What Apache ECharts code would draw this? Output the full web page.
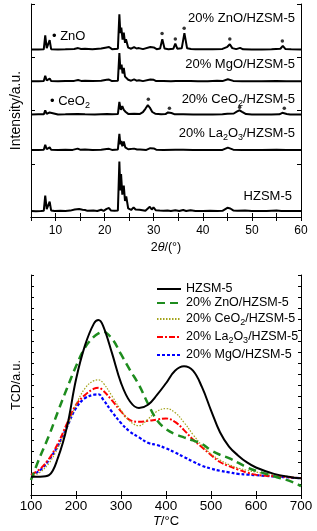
<!DOCTYPE html>
<html><head><meta charset="utf-8">
<script src="https://cdn.jsdelivr.net/npm/echarts@6/dist/echarts.min.js"></script>
<style>html,body{margin:0;padding:0;background:#fff}#c{width:317px;height:531px}</style>
</head><body><div id="c"></div>
<script>
// ---------- XRD (top panel): [2theta, intensity above own baseline] ----------
const xrdHZSM = [[5,0.3],[6,0.2],[7,0.3],[7.6,0.4],[7.9,7.5],[8.2,1.2],[8.5,0.8],[8.8,4.7],[9.1,0.6],[9.8,0.3],[11,0.4],[12,0.3],[13,0.5],[13.9,1.0],[14.3,0.6],[14.8,1.3],[15.2,0.7],[15.5,0.9],[16,0.8],[16.5,0.4],[17.7,0.6],[18.5,0.3],[19.3,0.9],[19.8,0.4],[20.4,1.3],[20.6,0.8],[20.9,1.7],[21.3,0.5],[22,0.4],[22.7,0.6],[23.0,23.5],[23.2,10],[23.35,17.7],[23.6,8],[23.9,12.2],[24.15,5],[24.4,7.2],[24.8,1.5],[25.4,0.8],[25.9,2.0],[26.3,1.0],[26.7,1.3],[27.1,0.9],[27.5,0.5],[28.3,0.4],[29.2,2.3],[29.6,1.0],[29.95,2.0],[30.4,0.7],[31.2,0.5],[32.0,0.4],[32.8,0.6],[33.5,0.3],[34.4,0.7],[35.2,0.3],[36.0,0.8],[36.6,0.3],[37.5,0.7],[38.5,0.3],[40,0.3],[41.5,0.4],[43,0.3],[44,0.4],[45.0,1.8],[45.3,1.2],[45.6,1.5],[46.2,0.6],[47,0.4],[48.6,0.5],[50,0.3],[51.8,0.3],[53,0.3],[55,0.6],[56,0.3],[57.5,0.3],[60,0.3]];
const xrdLa = [[5,0.3],[6.5,0.3],[7.6,0.4],[7.9,2.7],[8.2,0.6],[8.5,0.5],[8.8,1.5],[9.1,0.4],[10.5,0.3],[12,0.4],[13.5,0.3],[14.5,0.9],[15,0.4],[16,0.5],[17.5,0.3],[19.3,0.4],[20.4,0.7],[20.9,0.8],[21.5,0.3],[22.7,0.5],[23.0,7.8],[23.2,3],[23.4,4.5],[23.6,2],[23.9,4.2],[24.2,1.5],[24.4,2.3],[24.8,0.6],[26,0.9],[26.6,0.5],[27.2,0.5],[28.5,0.3],[29.3,1.1],[29.6,0.5],[30,1.0],[30.5,0.4],[32,0.3],[34.4,0.4],[36,0.4],[38,0.3],[40,0.3],[42,0.3],[44,0.3],[45.1,1.4],[45.5,1],[46.2,0.4],[48,0.3],[50,0.3],[52,0.3],[55,0.4],[57,0.3],[60,0.3]];
const xrdCe = [[5,0.3],[6.5,0.4],[7.6,0.4],[7.9,2.3],[8.2,0.6],[8.5,0.5],[8.8,1.3],[9.1,0.4],[10.5,0.3],[12,0.4],[14.5,0.6],[16,0.4],[18,0.3],[20.5,0.5],[21.5,0.4],[22.7,0.5],[23.0,6.2],[23.3,2.5],[23.6,4.2],[23.9,2.5],[24.3,1.5],[24.8,0.6],[26,0.7],[27.2,0.6],[27.8,1.4],[28.3,3],[28.8,4.7],[29.2,3.6],[29.7,1.5],[30.3,0.7],[31.5,0.4],[32.4,0.5],[32.9,1.3],[33.2,1.6],[33.6,1.0],[34.3,0.4],[36,0.4],[38,0.3],[40,0.3],[42,0.3],[44,0.4],[45,0.7],[46.3,0.8],[47,1.8],[47.5,2.3],[48,1.6],[48.8,0.5],[50,0.3],[52,0.3],[54,0.3],[55.6,0.4],[56.2,1.1],[56.6,1.3],[57.1,0.6],[57.8,0.3],[60,0.3]];
const xrdMg = [[5,0.3],[6.5,0.3],[7.6,0.4],[7.9,2.9],[8.2,0.7],[8.5,0.5],[8.8,1.6],[9.1,0.4],[10.5,0.3],[12,0.4],[13.8,0.5],[14.6,0.9],[15.2,0.5],[16,0.6],[17.5,0.4],[19.3,0.6],[20.4,1.0],[20.9,1.1],[21.5,0.4],[22.7,0.6],[23.0,13.6],[23.2,6],[23.45,8.1],[23.65,4],[23.9,6.6],[24.15,2.5],[24.4,3.4],[24.8,1.0],[25.4,0.6],[26,1.2],[26.5,0.6],[27,0.8],[27.8,0.4],[29.3,1.2],[29.7,0.6],[30,1.0],[30.5,0.4],[32,0.4],[33.5,0.3],[34.5,0.5],[36,0.5],[37.5,0.4],[39,0.3],[41,0.3],[42.9,0.6],[44,0.4],[45.1,1.3],[45.5,1.5],[46.2,0.5],[48,0.3],[50,0.3],[52,0.3],[55,0.4],[57,0.3],[60,0.3]];
const xrdZn = [[5,0.3],[6.5,0.3],[7.6,0.4],[7.9,7],[8.2,1],[8.5,0.8],[8.8,4.7],[9.1,0.5],[10.5,0.3],[12,0.4],[13.8,0.6],[14.6,1.0],[15.2,0.6],[16,0.7],[17.5,0.4],[19.3,0.8],[20.4,1.3],[20.9,1.5],[21.5,0.5],[22.7,0.7],[23.0,16.9],[23.2,8],[23.4,10.6],[23.65,5],[23.9,8.3],[24.15,3.5],[24.35,5.2],[24.8,1.2],[25.4,0.7],[26,1.5],[26.5,0.8],[27,1.0],[27.8,0.5],[29.3,1.5],[29.7,0.8],[30,1.3],[30.6,0.5],[31.3,0.8],[31.75,5.2],[32.2,0.8],[33,0.5],[34.0,0.7],[34.4,3.1],[34.8,0.7],[35.7,0.9],[36.25,8],[36.8,0.9],[37.6,0.6],[38.5,0.4],[40,0.4],[42,0.4],[44,0.6],[45.0,1.6],[45.5,2.8],[46.0,1.0],[46.8,0.5],[47.6,1.1],[48.2,0.4],[50,0.3],[52,0.3],[54,0.4],[55.8,0.7],[56.3,2],[56.8,0.6],[58,0.4],[60,0.3]];
const xrdOffsets = [2.5, 31.2, 47.8, 63.4, 78.3]; // HZSM, La, Ce, Mg, Zn stacking
const znoMarks = [[31.7,86.2],[34.4,83.6],[36.2,88.6],[45.5,83.6],[56.2,82.6]];
const ceMarks = [[28.9,55.3],[33.2,51],[47.5,51.5],[56.6,51]];
const xrdTicks = [10,20,30,40,50,60];

// ---------- TPD (bottom panel) ----------
const tempC = [100,120,140,160,180,200,220,240,250,260,280,300,320,340,360,380,400,420,440,460,480,500,520,540,560,580,600,640,680,700];
const tcdHZSM = [8.3,8.3,9.0,17,31,52.5,68,78,79.5,77,64.5,51,42.5,39.5,41,45.5,50.8,56.5,58.5,56.5,49,38.5,28.5,22,18,14.8,12.5,9.6,8.0,7.6];
const tcdZnO  = [6.8,17.4,27,38,48.5,58.5,67,72,73.5,74.2,71,64,56.8,50,41.5,34,30,27.7,26.2,24.8,23.2,20.3,18.3,16.8,14.7,12.6,11,8.5,6,4];
const tcdCeO2 = [8.3,10.3,14.5,21.5,30.5,41,48.5,52,52.3,51,45,38.5,33.5,31.5,34.5,38,39.3,37.5,33,27.5,22.5,18.7,15.9,13.8,12.3,11.2,10.4,9.3,8.2,7.7];
const tcdLa2O3= [9.1,11.8,16.5,23.5,32.5,41,45.5,48.3,48.8,47.5,43,38,34,33.3,33.7,34.3,34.8,33.2,29.5,25.2,21.7,18.2,15,13.1,11.6,10.2,9.2,8.5,8,7.6];
const tcdMgO  = [9.1,11.2,16,22.5,31,39.5,44,45.6,45.8,43.5,37.8,32.7,28.8,26.2,23.7,22.7,21.2,19.3,17.3,15.2,13.3,12,11,10.3,9.6,9.3,9.0,8.4,7.9,7.6];
const tpdNames = ['HZSM-5','20% ZnO/HZSM-5','20% CeO2/HZSM-5','20% La2O3/HZSM-5','20% MgO/HZSM-5'];
const tpdRich  = ['HZSM-5','20% ZnO/HZSM-5','20% CeO{s|2}/HZSM-5','20% La{s|2}O{s|3}/HZSM-5','20% MgO/HZSM-5'];

const FONT = '"Liberation Sans", Arial, sans-serif';
const sub = {fontSize: 9, lineHeight: 9, verticalAlign: 'bottom', fontFamily: FONT, color: '#000'};

const chart = echarts.init(document.getElementById('c'), null, {renderer: 'canvas'});
const pair = (a, off) => a.map(p => [p[0], p[1] + off]);
const zipT = v => tempC.map((t, i) => [t, v[i]]);

const axBase = {
  axisLine: {lineStyle: {color: '#000', width: 1}},
  axisTick: {inside: true, length: 4, lineStyle: {color: '#000'}},
  splitLine: {show: false}
};

const tpdStyles = [
  {color: '#000000', width: 2, type: 'solid'},
  {color: '#1e8c1e', width: 2.5, type: [8, 5]},
  {color: '#a3a31a', width: 1.2, type: [1.5, 1.5]},
  {color: '#ff0000', width: 2, type: [6, 2, 2, 2]},
  {color: '#0000ff', width: 2.2, type: [3, 2]}
];
const tpdData = [tcdHZSM, tcdZnO, tcdCeO2, tcdLa2O3, tcdMgO];
const legendRowsY = [281, 295, 311, 329, 347];

const option = {
  animation: false,
  backgroundColor: '#fff',
  textStyle: {fontFamily: FONT},
  grid: [
    {left: 31, right: 16, top: 4, height: 213},
    {left: 31, right: 16, top: 275, height: 220}
  ],
  title: [
    {text: '20% ZnO/HZSM-5', right: 22, top: 9},
    {text: '20% MgO/HZSM-5', right: 22, top: 55},
    {text: '20% CeO{s|2}/HZSM-5', right: 22, top: 90},
    {text: '20% La{s|2}O{s|3}/HZSM-5', right: 22, top: 124},
    {text: 'HZSM-5', right: 25, top: 187},
    {text: '• ZnO', left: 52, top: 27},
    {text: '• CeO{s|2}', left: 50, top: 92}
  ].map(t => Object.assign({padding: 0, textStyle: {fontSize: 13, fontWeight: 'normal', color: '#000', fontFamily: FONT, lineHeight: 18, rich: {s: sub}}}, t)),
  legend: tpdNames.map((n, i) => ({
    data: [n], left: 156, top: legendRowsY[i], orient: 'vertical', padding: 0,
    itemWidth: 24, itemHeight: 10, itemGap: 0,
    itemStyle: {opacity: 0},
    formatter: () => tpdRich[i],
    textStyle: {fontSize: 12.5, color: '#000', fontFamily: FONT, lineHeight: 16, rich: {s: sub}}
  })),
  xAxis: [
    Object.assign({}, axBase, {gridIndex: 0, type: 'value', min: 5, max: 60, interval: 5,
      axisLabel: {fontSize: 12, color: '#000', margin: 8, formatter: v => xrdTicks.includes(v) ? String(v) : ''},
      name: '2{i|θ}/(°)', nameLocation: 'middle', nameGap: 24,
      nameTextStyle: {fontSize: 12.5, color: '#000', rich: {i: {fontStyle: 'italic', fontSize: 12.5, color: '#000'}}}}),
    Object.assign({}, axBase, {gridIndex: 0, type: 'value', min: 5, max: 60, interval: 5, position: 'top', axisLabel: {show: false}}),
    Object.assign({}, axBase, {gridIndex: 1, type: 'value', min: 100, max: 700, interval: 100,
      axisLabel: {fontSize: 13.5, color: '#000', margin: 4},
      name: '{i|T}/°C', nameLocation: 'middle', nameGap: 20,
      nameTextStyle: {fontSize: 13, color: '#000', rich: {i: {fontStyle: 'italic', fontSize: 13, color: '#000'}}}}),
    Object.assign({}, axBase, {gridIndex: 1, type: 'value', min: 100, max: 700, interval: 100, position: 'top', axisLabel: {show: false}})
  ],
  yAxis: [
    Object.assign({}, axBase, {gridIndex: 0, type: 'value', min: 0, max: 100, interval: 25, axisLabel: {show: false},
      name: 'Intensity/a.u.', nameLocation: 'middle', nameGap: 8, nameTextStyle: {fontSize: 14, color: '#000'}}),
    Object.assign({}, axBase, {gridIndex: 0, type: 'value', min: 0, max: 100, interval: 25, position: 'right', axisLabel: {show: false}}),
    Object.assign({}, axBase, {gridIndex: 1, type: 'value', min: 0, max: 100, interval: 5, axisLabel: {show: false},
      axisTick: {inside: true, length: 3, lineStyle: {color: '#000'}},
      name: 'TCD/a.u.', nameLocation: 'middle', nameGap: 8, nameTextStyle: {fontSize: 12.5, color: '#000'}}),
    Object.assign({}, axBase, {gridIndex: 1, type: 'value', min: 0, max: 100, interval: 5, position: 'right', axisLabel: {show: false},
      axisTick: {inside: true, length: 3, lineStyle: {color: '#000'}}})
  ],
  series: [
    ...[xrdHZSM, xrdLa, xrdCe, xrdMg, xrdZn].map((d, i) => ({
      type: 'line', xAxisIndex: 0, yAxisIndex: 0, data: pair(d, xrdOffsets[i]),
      showSymbol: false, symbol: 'none', lineStyle: {color: '#000', width: 2}, silent: true
    })),
    {type: 'scatter', xAxisIndex: 0, yAxisIndex: 0, data: znoMarks.concat(ceMarks), symbol: 'circle', symbolSize: 3.5, itemStyle: {color: '#000'}},
    ...tpdData.map((d, i) => ({
      name: tpdNames[i], type: 'line', xAxisIndex: 2, yAxisIndex: 2, data: zipT(d), smooth: 0.4,
      symbol: 'none', showSymbol: false, lineStyle: tpdStyles[i], itemStyle: {color: tpdStyles[i].color}, z: 10 - i
    }))
  ]
};
chart.setOption(option);
</script></body></html>
